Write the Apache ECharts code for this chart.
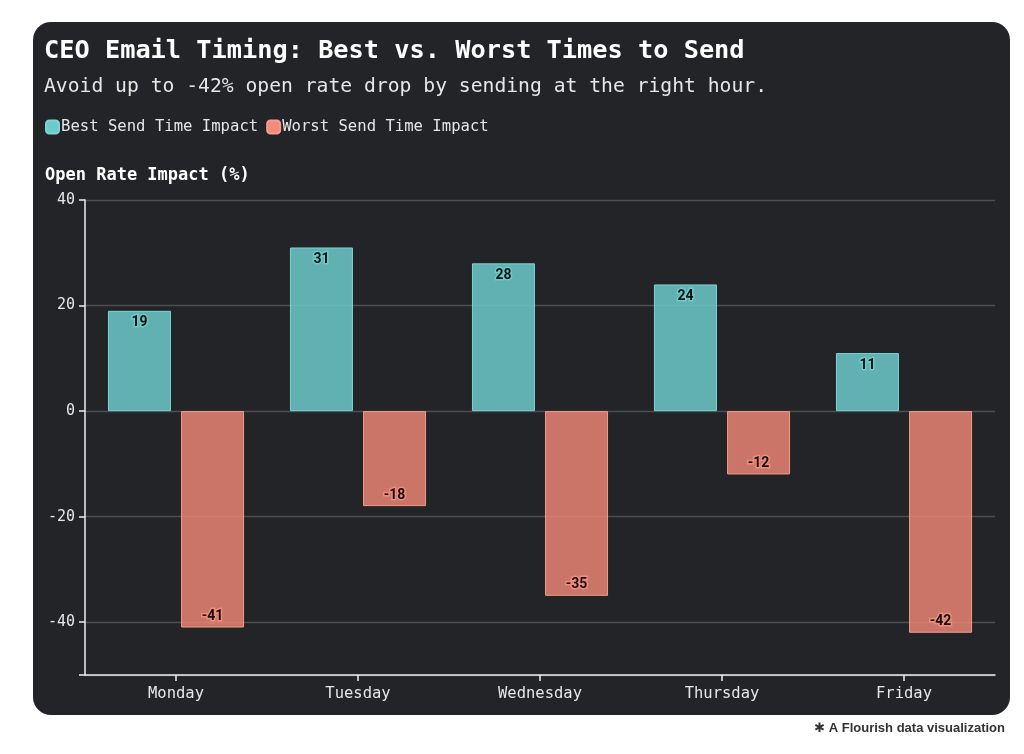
<!DOCTYPE html>
<html>
<head>
<meta charset="utf-8">
<script src="https://cdn.jsdelivr.net/npm/echarts@6/dist/echarts.min.js"></script>
<style>
  html, body { margin: 0; padding: 0; background: #ffffff; }
  #panel {
    position: absolute; left: 33px; top: 22px; width: 977px; height: 693px;
    background: #232428; border-radius: 18px;
  }
  #chart { position: absolute; left: 0; top: 0; width: 1024px; height: 754px; }
</style>
</head>
<body>
<div id="panel"></div>
<div id="chart"></div>
<script>
  // data
  let days = ['Monday', 'Tuesday', 'Wednesday', 'Thursday', 'Friday'];
  let bestImpact = [19, 31, 28, 24, 11];
  let worstImpact = [-41, -18, -35, -12, -42];
  let yMin = -50;
  let yMax = 40;

  let mono = '"DejaVu Sans Mono", "Liberation Mono", monospace';
  let teal = '#6ccaca';
  let salmon = '#f28b7b';

  let chartDom = document.getElementById('chart');
  let myChart = echarts.init(chartDom, null, { renderer: 'canvas' });

  let option = {
    backgroundColor: 'transparent',
    animation: false,
    title: [
      {
        text: 'CEO Email Timing: Best vs. Worst Times to Send',
        left: 39, top: 34,
        textStyle: { color: '#ffffff', fontFamily: mono, fontSize: 25.3, fontWeight: 'bold' }
      },
      {
        text: 'Avoid up to -42% open rate drop by sending at the right hour.',
        left: 39, top: 72,
        textStyle: { color: '#e6e6e6', fontFamily: mono, fontSize: 19.7, fontWeight: 'normal' }
      },
      {
        text: '✱ A Flourish data visualization',
        right: 14, top: 717,
        textStyle: { color: '#333333', fontFamily: '"Liberation Sans", "DejaVu Sans", sans-serif', fontSize: 13, fontWeight: 'bold' }
      }
    ],
    legend: {
      left: 40, top: 114,
      itemWidth: 13, itemHeight: 13, itemGap: 8,
      icon: 'roundRect',
      textStyle: { color: '#e6e6e6', fontFamily: mono, fontSize: 15.6, padding: [0, 0, 0, -3] },
      data: [
        { name: 'Best Send Time Impact', itemStyle: { color: teal } },
        { name: 'Worst Send Time Impact', itemStyle: { color: salmon } }
      ]
    },
    grid: { left: 85, right: 29, top: 200, bottom: 79 },
    xAxis: {
      type: 'category',
      data: days,
      axisLine: { onZero: false, lineStyle: { color: '#eeeeee', width: 1.5 } },
      axisTick: { show: true, alignWithLabel: true, length: 6, lineStyle: { color: '#eeeeee', width: 1.5 } },
      axisLabel: { color: '#e6e6e6', fontFamily: mono, fontSize: 15.5, margin: 11 }
    },
    yAxis: {
      type: 'value',
      min: yMin, max: yMax,
      name: 'Open Rate Impact (%)',
      nameLocation: 'end',
      nameGap: 16,
      nameTextStyle: { color: '#ffffff', fontFamily: mono, fontSize: 17, fontWeight: 'bold', align: 'left', padding: [0, 0, 0, -40] },
      axisLine: { show: true, lineStyle: { color: '#eeeeee', width: 1.5 } },
      axisTick: { show: true, length: 6, lineStyle: { color: '#eeeeee', width: 1.5 } },
      axisLabel: {
        color: '#e6e6e6', fontFamily: mono, fontSize: 15, margin: 10,
        formatter: function (v) { return v === yMin ? '' : String(v); }
      },
      splitLine: { show: true, lineStyle: { color: '#4d4e52', width: 1.3 } }
    },
    series: [
      {
        name: 'Best Send Time Impact',
        type: 'bar',
        data: bestImpact,
        barWidth: 63,
        barGap: '16%',
        itemStyle: { color: 'rgba(108,202,202,0.85)', borderColor: '#7ad6d6', borderWidth: 1 },
        label: {
          show: true, position: 'insideTop', distance: 5,
          color: '#111111', fontFamily: 'Roboto, "Liberation Sans", sans-serif', fontSize: 14, fontWeight: 'bold',
          textBorderColor: teal, textBorderWidth: 3
        }
      },
      {
        name: 'Worst Send Time Impact',
        type: 'bar',
        data: worstImpact,
        barWidth: 63,
        itemStyle: { color: 'rgba(240,136,120,0.82)', borderColor: '#f59a8c', borderWidth: 1 },
        label: {
          show: true, position: 'insideBottom', distance: 4,
          color: '#111111', fontFamily: 'Roboto, "Liberation Sans", sans-serif', fontSize: 14, fontWeight: 'bold',
          textBorderColor: salmon, textBorderWidth: 3
        }
      }
    ]
  };

  myChart.setOption(option);
</script>
</body>
</html>
